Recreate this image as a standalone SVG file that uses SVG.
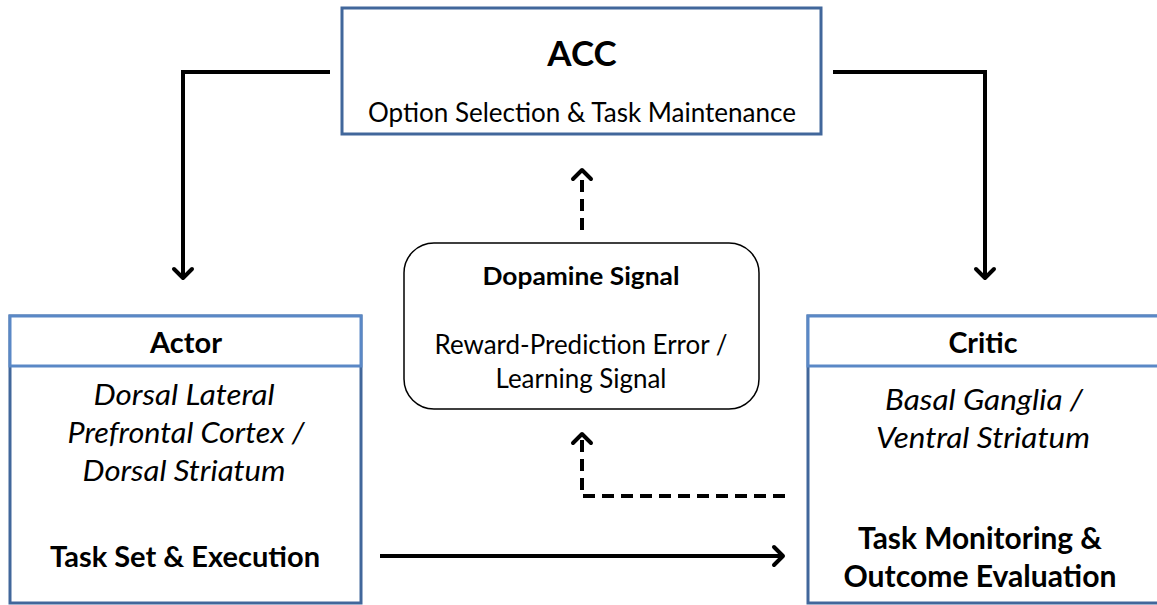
<svg xmlns="http://www.w3.org/2000/svg" width="1157" height="605" viewBox="0 0 1157 605">
<defs>
<marker id="ah" markerUnits="userSpaceOnUse" markerWidth="30" markerHeight="30" refX="15" refY="15" orient="auto" viewBox="0 0 30 30">
<polyline points="6,6 15,15 6,24" fill="none" stroke="#000" stroke-width="4" stroke-linecap="round" stroke-linejoin="round"/>
</marker>
<style>
.box{fill:#fff;stroke:#41679b;stroke-width:3}
.hdr{fill:#fff;stroke:#5a88c6;stroke-width:3}
.t{font-family:Lato,"Open Sans",sans-serif;fill:#000;text-anchor:middle}
.b{font-weight:bold}
.i{font-style:italic}
.con{fill:none;stroke:#000;stroke-width:4}
.dash{stroke-dasharray:12,7}
</style>
</defs>
<rect width="1157" height="605" fill="#fff"/>
<g id="connectors">
<polyline class="con" points="330,72 183,72 183,278" marker-end="url(#ah)"/>
<polyline class="con" points="833,72 985,72 985,278" marker-end="url(#ah)"/>
<line class="con" x1="380" y1="556" x2="783" y2="556" marker-end="url(#ah)"/>
<line class="con dash" x1="582" y1="230" x2="582" y2="170" marker-end="url(#ah)"/>
<polyline class="con dash" points="785,496 582,496 582,434" marker-end="url(#ah)"/>
</g>
<g id="acc">
<rect class="box" x="342" y="8" width="479" height="126"/>
<text class="t b" x="582" y="66" font-size="35">ACC</text>
<text class="t" x="582" y="122" font-size="26" textLength="428" lengthAdjust="spacingAndGlyphs">Option Selection &amp; Task Maintenance</text>
</g>
<g id="actor">
<rect class="box" x="10" y="316" width="351" height="287"/>
<rect class="hdr" x="10" y="316" width="351" height="50"/>
<text class="t b" x="186" y="353" font-size="28" textLength="72" lengthAdjust="spacingAndGlyphs">Actor</text>
<text class="t i" x="184" y="405" font-size="29" textLength="181" lengthAdjust="spacingAndGlyphs">Dorsal Lateral</text>
<text class="t i" x="186" y="443" font-size="29" textLength="237" lengthAdjust="spacingAndGlyphs">Prefrontal Cortex /</text>
<text class="t i" x="184" y="481" font-size="29" textLength="203" lengthAdjust="spacingAndGlyphs">Dorsal Striatum</text>
<text class="t b" x="185" y="567" font-size="29" textLength="270" lengthAdjust="spacingAndGlyphs">Task Set &amp; Execution</text>
</g>
<g id="critic">
<rect class="box" x="808" y="316" width="360" height="287"/>
<rect class="hdr" x="808" y="316" width="360" height="50"/>
<text class="t b" x="983" y="353" font-size="28" textLength="69" lengthAdjust="spacingAndGlyphs">Critic</text>
<text class="t i" x="984" y="410" font-size="29" textLength="198" lengthAdjust="spacingAndGlyphs">Basal Ganglia /</text>
<text class="t i" x="983" y="448" font-size="29" textLength="214" lengthAdjust="spacingAndGlyphs">Ventral Striatum</text>
<text class="t b" x="980" y="549" font-size="29.5" textLength="244" lengthAdjust="spacingAndGlyphs">Task Monitoring &amp;</text>
<text class="t b" x="980" y="587" font-size="29.5" textLength="273" lengthAdjust="spacingAndGlyphs">Outcome Evaluation</text>
</g>
<g id="dopamine">
<rect x="404" y="243" width="355" height="166" rx="30" fill="#fff" stroke="#000" stroke-width="1.5"/>
<text class="t b" x="581" y="285" font-size="25" textLength="197" lengthAdjust="spacingAndGlyphs">Dopamine Signal</text>
<text class="t" x="581" y="354" font-size="26" textLength="293" lengthAdjust="spacingAndGlyphs">Reward-Prediction Error /</text>
<text class="t" x="581" y="388" font-size="26" textLength="171" lengthAdjust="spacingAndGlyphs">Learning Signal</text>
</g>
</svg>
